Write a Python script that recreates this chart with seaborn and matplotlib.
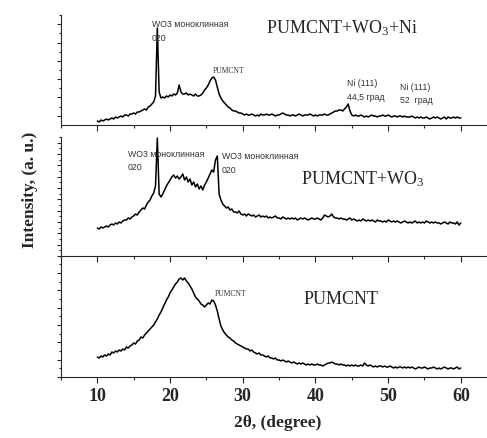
import numpy as np
import pandas as pd
import seaborn as sns
from matplotlib import pyplot as plt
from matplotlib.ticker import MultipleLocator

# 2theta grid, 0.25 degree step from 10 to 60
two_theta = np.arange(10, 60.001, 0.25)

# PUMCNT+WO3+Ni (top panel), intensity in arbitrary units
top_int = [
    4, 3, 5, 4, 5, 6, 5, 6, 7, 6, 8, 7, 8, 9, 8, 10, 10, 9, 11, 11,
    12, 11, 13, 13, 14, 15, 16, 15, 18, 19, 21, 23, 29, 97, 33, 27, 28, 27, 29, 28,
    30, 29, 31, 30, 32, 40, 33, 31, 31, 32, 30, 31, 30, 29, 31, 29, 29, 30, 32, 35,
    37, 40, 44, 47, 48, 45, 38, 31, 27, 24, 22, 20, 18, 17, 15, 14, 14, 13, 12, 12,
    11, 10, 11, 10, 10, 11, 10, 9, 10, 9, 11, 10, 10, 11, 10, 10, 11, 10, 9, 10,
    10, 11, 12, 11, 10, 10, 9, 10, 10, 9, 10, 11, 10, 9, 10, 10, 10, 11, 10, 9,
    10, 9, 10, 10, 10, 11, 10, 10, 11, 12, 13, 14, 14, 15, 15, 14, 16, 18, 21, 14,
    10, 9, 10, 9, 9, 10, 9, 8, 9, 8, 9, 10, 9, 9, 8, 9, 9, 10, 9, 9,
    10, 9, 8, 9, 9, 8, 9, 9, 8, 9, 8, 8, 8, 9, 8, 7, 8, 7, 8, 7,
    7, 8, 7, 6, 7, 8, 7, 8, 7, 6, 7, 8, 6, 8, 7, 7, 8, 7, 8, 7,
    7,
]

# PUMCNT+WO3 (middle panel)
mid_int = [
    28, 27, 29, 28, 29, 30, 29, 31, 32, 31, 33, 32, 34, 33, 35, 36, 36, 38, 37, 39,
    40, 42, 41, 44, 46, 48, 47, 51, 54, 56, 60, 63, 70, 118, 62, 59, 62, 66, 70, 73,
    76, 79, 81, 78, 80, 77, 79, 82, 76, 79, 74, 77, 71, 74, 69, 72, 67, 70, 66, 71,
    74, 78, 82, 86, 84, 96, 100, 62, 56, 52, 50, 48, 49, 46, 47, 44, 44, 43, 45, 42,
    41, 42, 40, 42, 41, 40, 41, 39, 40, 41, 39, 40, 39, 40, 38, 39, 38, 39, 40, 38,
    38, 37, 39, 38, 37, 38, 37, 38, 37, 38, 36, 37, 38, 37, 38, 37, 36, 37, 38, 37,
    37, 38, 37, 36, 38, 41, 40, 39, 40, 42, 39, 38, 38, 37, 38, 37, 37, 36, 37, 38,
    36, 37, 36, 35, 36, 35, 37, 36, 35, 36, 35, 36, 35, 34, 36, 35, 35, 34, 35, 34,
    36, 35, 34, 35, 34, 35, 34, 33, 34, 35, 34, 33, 34, 33, 34, 35, 33, 34, 33, 34,
    33, 35, 34, 33, 34, 33, 34, 33, 33, 32, 33, 34, 33, 32, 34, 33, 33, 32, 34, 31,
    33,
]

# PUMCNT (bottom panel)
bot_int = [
    20, 19, 21, 20, 22, 21, 23, 22, 25, 24, 26, 25, 27, 26, 28, 27, 30, 29, 31, 32,
    34, 33, 36, 37, 40, 39, 42, 44, 46, 48, 50, 52, 55, 58, 62, 65, 69, 73, 77, 80,
    84, 87, 90, 93, 95, 98, 99, 97, 99, 96, 94, 91, 88, 84, 80, 78, 76, 73, 72, 70,
    72, 74, 73, 77, 76, 72, 66, 58, 51, 47, 44, 42, 40, 39, 37, 36, 34, 33, 32, 31,
    30, 29, 28, 28, 26, 27, 25, 24, 23, 24, 22, 22, 21, 20, 21, 19, 19, 18, 19, 17,
    17, 16, 17, 16, 15, 16, 15, 14, 15, 14, 13, 14, 13, 14, 13, 12, 13, 12, 13, 12,
    12, 13, 12, 12, 11, 12, 13, 14, 14, 15, 14, 13, 13, 12, 13, 12, 12, 11, 12, 11,
    12, 11, 12, 11, 11, 12, 11, 14, 12, 11, 12, 11, 10, 11, 10, 11, 11, 10, 11, 10,
    10, 11, 10, 9, 10, 9, 10, 10, 9, 10, 9, 10, 9, 10, 9, 8, 9, 10, 9, 9,
    10, 9, 8, 9, 9, 10, 9, 8, 9, 8, 9, 10, 9, 8, 9, 9, 8, 9, 10, 8,
    9,
]

sns.set_style("ticks")
plt.rcParams["font.family"] = ["Liberation Serif", "DejaVu Serif"]
plt.rcParams["mathtext.fontset"] = "custom"
plt.rcParams["mathtext.rm"] = "Liberation Serif"
plt.rcParams["mathtext.it"] = "Liberation Serif"

fig = plt.figure(figsize=(4.87, 4.38), dpi=100)
W, H = 487, 438

# panel boxes in pixels: (top, bottom)
boxes = [(15, 125), (137, 256), (256, 377)]
left_px, right_px = 61, 487
axes = []
for top, bot in boxes:
    ax = fig.add_axes([left_px / W, 1 - bot / H, (right_px - left_px) / W, (bot - top) / H])
    axes.append(ax)

panels = [
    (top_int, 110, 18.3, 9.2),
    (mid_int, 119, 11.33, 0),
    (bot_int, 121, 17.35, 0),
]

for ax, (vals, ytop, ystep, yoff) in zip(axes, panels):
    df = pd.DataFrame({"two_theta": two_theta, "intensity": vals})
    sns.lineplot(data=df, x="two_theta", y="intensity", ax=ax, color="black", lw=1.1)
    ax.set_xlim(5, 63.6)
    ax.set_ylim(0, ytop)
    ax.set_xlabel("")
    ax.set_ylabel("")
    ax.xaxis.set_major_locator(MultipleLocator(10))
    ax.xaxis.set_minor_locator(MultipleLocator(5))
    ax.set_yticks(np.arange(yoff, ytop, ystep))
    ax.set_yticks(np.arange(yoff + ystep / 2, ytop, ystep), minor=True)
    ax.set_yticklabels([])
    ax.tick_params(axis="x", which="major", direction="out", length=4, width=0.8)
    ax.tick_params(axis="x", which="minor", direction="out", length=2, width=0.8)
    ax.tick_params(axis="y", which="major", direction="out", length=3, width=0.8)
    ax.tick_params(axis="y", which="minor", direction="out", length=1.5, width=0.8)
    for s in ["top", "right"]:
        ax.spines[s].set_visible(False)
    for s in ["left", "bottom"]:
        ax.spines[s].set_linewidth(0.8)
    ax.patch.set_alpha(0)

for ax in axes[:2]:
    ax.set_xticklabels([])
axes[2].tick_params(axis="x", labelsize=13, pad=4)
for lab in axes[2].get_xticklabels():
    lab.set_fontweight("bold")

# sample names
axes[0].text(43.7, 97, "PUMCNT+WO$_3$+Ni", fontsize=13, ha="center", va="center")
axes[1].text(46.5, 77, "PUMCNT+WO$_3$", fontsize=13, ha="center", va="center")
axes[2].text(43.5, 78, "PUMCNT", fontsize=13, ha="center", va="center")

# peak labels
small = dict(fontsize=6.3, family=["Liberation Sans", "DejaVu Sans"], color="#333333",
             ha="left", va="center", linespacing=1.6)
axes[0].text(17.5, 93.5, "WO3 моноклинная\n020", **small)
axes[0].text(44.3, 34.5, "Ni (111)\n44,5 град", **small)
axes[0].text(51.6, 31, "Ni (111)\n52  град", **small)
axes[1].text(14.2, 95, "WO3 моноклинная\n020", **small)
axes[1].text(27.1, 92.5, "WO3 моноклинная\n020", **small)
axes[0].text(25.9, 54, "PUMCNT", fontsize=5.5, color="#333333", ha="left", va="center")
axes[2].text(26.2, 83, "PUMCNT", fontsize=5.5, color="#333333", ha="left", va="center")

fig.text(278 / W, 1 - 423 / H, "2θ, (degree)", fontsize=12.5, fontweight="bold",
         ha="center", va="center")
fig.text(30 / W, 1 - 190 / H, "Intensity, (a. u.)", fontsize=12.5, fontweight="bold",
         ha="center", va="center", rotation=90)

fig.savefig("out.png", dpi=100)
